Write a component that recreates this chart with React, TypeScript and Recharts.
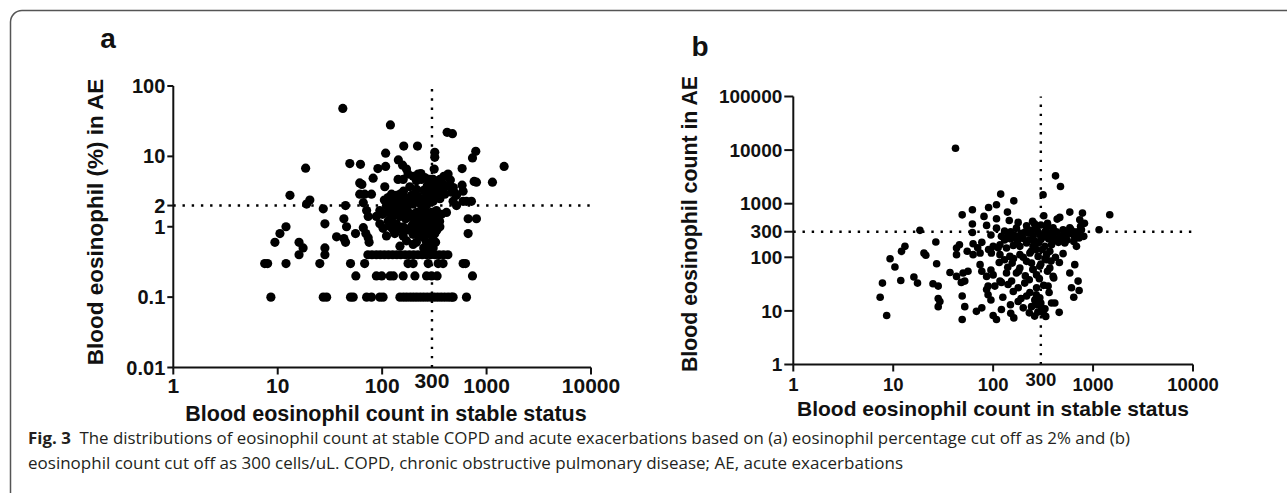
import React from "react";
import {
  ScatterChart,
  Scatter,
  XAxis,
  YAxis,
  ReferenceLine,
} from "recharts";

const FONT = '"Liberation Sans", Arial, Helvetica, sans-serif';
const CAPTION_FONT = '"Open Sans", "Noto Sans", sans-serif';
const INK = "#111";

const xTicks = [1, 10, 100, 300, 1000, 10000];
const aYTicks = [0.01, 0.1, 1, 2, 10, 100];
const bYTicks = [1, 10, 100, 300, 1000, 10000, 100000];

// panel a: stable count vs AE eosinophil %, scattered points
const aPoints: [number, number][] = [
  [42, 48], [120, 28], [419, 22], [471, 21], [161, 14], [218, 14], [108, 11.1], [319, 11.4],
  [319, 9.7], [788, 11.8], [733, 9.5], [143, 8.9], [49, 7.9], [62, 7.7], [18.5, 6.8], [91, 6.7],
  [108, 7.2], [157, 7.5], [171, 6.6], [177, 5.6], [221, 5.6], [235, 5.7], [315, 6.6], [583, 6.7],
  [1472, 7.2], [82, 4.9], [61, 4.2], [64, 4.0], [142, 4.7], [159, 4.7], [198, 5.2], [256, 5.0],
  [308, 4.7], [357, 4.7], [413, 5.3], [428, 5.6], [760, 4.4], [800, 4.3], [1138, 4.3], [213, 4.5],
  [238, 4.7], [286, 4.7], [106, 3.7], [184, 3.7], [213, 3.4], [286, 3.8], [319, 3.6], [357, 4.0],
  [407, 3.8], [444, 3.9], [583, 3.9], [160, 3.2], [250, 3.3], [270, 3.8], [300, 3.4], [335, 4.2],
  [370, 4.4], [390, 5.2], [450, 4.6], [480, 3.6], [500, 3.0],
  [13.1, 2.8], [61, 2.9], [68, 2.9], [79, 2.9], [114, 2.6], [123, 2.9], [137, 2.8], [148, 2.9],
  [165, 2.6], [191, 2.8], [205, 2.9], [229, 2.5], [286, 2.9], [319, 3.1], [357, 3.2], [398, 2.9],
  [461, 3.1], [515, 2.8], [596, 3.2], [20.3, 2.4], [18.9, 2.1], [44.6, 2.0], [66, 2.2], [110, 2.0],
  [128, 2.1], [148, 1.9], [159, 2.2], [177, 2.0], [198, 2.1], [238, 2.0], [266, 2.0], [308, 2.3],
  [357, 2.5], [478, 2.3], [596, 2.3], [642, 2.3], [716, 2.3], [515, 2.0], [105, 2.4], [118, 2.3],
  [132, 2.5], [142, 2.2], [152, 2.6], [163, 2.3], [172, 2.4], [186, 2.6], [194, 2.3], [208, 2.4],
  [220, 2.7], [232, 2.2], [245, 2.4], [258, 2.6], [270, 2.3], [280, 2.5], [296, 2.7], [330, 2.6],
  [345, 2.8], [380, 3.4], [390, 3.0],
  [27.3, 1.8], [71, 1.7], [95, 1.7], [119, 1.8], [137, 1.7], [171, 1.7], [213, 1.6], [247, 1.8],
  [276, 1.5], [331, 1.7], [370, 1.5], [413, 1.6], [73.5, 1.4], [88, 1.4], [101, 1.5], [123, 1.3],
  [148, 1.4], [184, 1.4], [229, 1.4], [308, 1.3], [112, 1.6], [128, 1.5], [140, 1.6], [158, 1.5],
  [168, 1.3], [178, 1.6], [192, 1.5], [205, 1.3], [218, 1.5], [240, 1.4], [255, 1.3], [262, 1.6],
  [290, 1.4], [300, 1.6], [318, 1.2], [340, 1.4], [355, 1.2],
  [12, 1.0], [28.3, 1.1], [43, 1.3], [45.6, 1.0], [95, 1.1], [114, 1.2], [137, 1.1], [159, 1.0],
  [198, 1.1], [229, 1.2], [286, 1.1], [331, 1.0], [666, 1.3], [800, 1.3], [66, 0.97], [102, 0.95],
  [128, 0.9], [148, 0.92], [184, 0.9], [247, 1.0], [297, 0.92], [357, 1.0], [120, 1.0], [132, 0.8],
  [170, 0.9], [190, 1.0], [210, 0.9], [222, 1.0], [240, 0.8], [258, 0.9], [275, 1.0], [320, 0.8],
  [335, 0.9], [55.6, 0.8], [69.8, 0.8], [10.5, 0.8], [110, 0.74], [159, 0.74], [198, 0.78],
  [229, 0.74], [286, 0.78], [666, 0.8], [36.6, 0.72], [43, 0.68], [73.5, 0.7], [171, 0.63],
  [213, 0.6], [266, 0.6], [308, 0.66], [250, 0.7], [295, 0.6], [325, 0.6], [9.4, 0.6], [16, 0.6],
  [44.6, 0.6], [75, 0.6], [148, 0.53], [198, 0.56], [276, 0.53], [308, 0.5], [17.5, 0.5],
  [28.3, 0.5], [286, 0.45], [250, 0.5],
];

// panel a: stable counts of the rows sitting on 0.4 / 0.3 / 0.2 / 0.1 %
const aRow04 = [16, 28.3, 73, 80, 88, 96, 105, 115, 126, 138, 151, 166, 182, 200, 220, 242, 266, 292, 320, 352, 387, 426];
const aRow03 = [7.5, 8.0, 12, 25.3, 49.8, 68, 177, 198, 276, 344, 383, 596, 628];
const aRow02 = [56, 88, 99, 119, 128, 159, 206, 266, 297, 336, 733];
const aRow01 = [8.6, 27.3, 29.4, 49.8, 52.8, 71, 79, 95, 102, 148, 160, 172, 186, 200, 215, 232, 250, 270, 292, 315, 340, 367, 396, 428, 460, 478, 642];

// panel b: stable count vs AE count
const bPoints: [number, number][] = [
  [42, 10840], [421, 3310], [472, 2100], [119, 1510], [316, 1465], [161, 1130], [108, 955], [90, 850],
  [62, 770], [49, 620], [81, 580], [108, 524], [139, 697], [585, 697], [783, 668], [1468, 621],
  [321, 595], [464, 555], [437, 516], [736, 501], [62, 417], [86, 394], [145, 487], [178, 448],
  [248, 467], [18.5, 318], [62, 291], [108, 350], [216, 388], [171, 350], [272, 337], [342, 367],
  [398, 355], [501, 327], [585, 355], [765, 327], [1148, 327], [121, 246], [141, 264], [165, 253],
  [192, 239], [224, 283], [251, 246], [293, 264], [342, 246], [398, 264], [464, 246], [542, 264],
  [807, 246], [26.7, 193], [46, 172], [43, 149], [63, 179], [77, 190], [100, 160], [117, 172],
  [136, 149], [159, 166], [185, 160], [216, 185], [251, 160], [282, 185], [329, 160], [384, 172],
  [521, 185], [641, 198], [725, 229], [682, 160], [13.1, 160], [12.1, 129], [9.3, 94], [20.3, 120],
  [21.2, 109], [43, 112], [63, 112], [74, 120], [96, 120], [117, 112], [147, 104], [185, 112],
  [233, 120], [282, 104], [342, 112], [501, 117], [369, 129], [27.2, 76], [10.4, 66], [37, 52],
  [43, 44], [50, 51], [56, 55], [48, 34], [52, 36], [74, 73], [77, 55], [86, 44],
  [100, 47], [117, 36], [136, 51], [153, 36], [171, 51], [185, 63], [216, 84], [242, 78],
  [251, 59], [293, 68], [342, 90], [369, 63], [398, 44], [272, 47], [656, 73], [585, 51],
  [708, 36], [608, 27], [725, 24], [641, 18], [7.8, 33], [7.4, 18], [8.6, 8.2], [11.9, 37],
  [16.1, 43], [17.5, 33], [25, 32], [28.2, 29], [28.2, 17], [29.3, 15], [28.2, 12], [49, 19],
  [52, 12], [49, 6.9], [68, 9.8], [77, 11.4], [100, 8.2], [108, 6.9], [121, 10.6], [149, 13],
  [161, 7.4], [178, 15], [200, 11.4], [216, 19], [242, 12], [261, 16], [272, 13], [293, 17.5],
  [305, 11.4], [316, 9.2], [336, 7.9], [363, 22], [384, 14], [414, 14], [458, 9.4], [89, 29],
  [89, 20], [86, 25], [104, 29], [121, 34], [141, 31], [159, 23], [178, 27], [207, 33],
  [233, 22], [272, 27], [355, 29], [404, 41],
  [130, 210], [150, 220], [175, 200], [200, 225], [230, 210], [260, 200], [300, 215], [320, 240],
  [360, 220], [420, 210], [450, 190], [500, 230], [550, 210], [600, 280], [640, 300], [130, 90],
  [160, 95], [200, 100], [240, 130], [270, 140], [310, 140], [330, 95], [380, 85], [420, 100],
  [460, 80], [300, 75], [250, 60], [210, 45], [180, 55], [140, 65], [115, 80], [95, 58],
  [155, 78], [230, 38], [290, 40], [320, 30], [350, 55], [270, 20], [190, 17], [125, 18],
  [300, 14], [330, 11], [280, 9.5], [260, 8], [150, 9], [230, 9.2], [95, 16], [210, 300],
  [240, 320], [190, 280], [150, 300], [130, 310], [280, 300], [330, 300], [380, 290], [430, 300],
  [520, 290], [560, 300], [600, 330], [700, 300], [750, 380], [820, 430], [710, 260], [650, 250],
  [260, 420], [300, 400], [350, 430], [95, 260], [112, 150], [90, 140], [70, 150], [55, 130],
];

const dataA = [
  ...aPoints.map(([x, y]) => ({ x, y })),
  ...aRow04.map((x) => ({ x, y: 0.4 })),
  ...aRow03.map((x) => ({ x, y: 0.3 })),
  ...aRow02.map((x) => ({ x, y: 0.2 })),
  ...aRow01.map((x) => ({ x, y: 0.1 })),
];
const dataB = bPoints.map(([x, y]) => ({ x, y }));

const dot = (r: number) => (p: any) => <circle cx={p.cx} cy={p.cy} r={r} fill="#000" />;

function makeXTick(fontSize: number, base: number, lift: number) {
  return (p: any) => {
    const is300 = p.payload.value === 300;
    return (
      <g>
        {!is300 && <line x1={p.x} x2={p.x} y1={p.y - 7} y2={p.y} stroke={INK} strokeWidth={2} />}
        <text
          x={p.x}
          y={p.y}
          dy={is300 ? base - lift : base}
          textAnchor="middle"
          fontFamily={FONT}
          fontWeight="bold"
          fontSize={fontSize}
          fill={INK}
        >
          {p.payload.value}
        </text>
      </g>
    );
  };
}

const dotted = { stroke: "#000", strokeWidth: 2.4, strokeDasharray: "2.4 6.8" };

function PanelA() {
  return (
    <ScatterChart width={640} height={497} margin={{ top: 86, right: 49, bottom: 89.5, left: 103.3 }}>
      <XAxis
        type="number"
        dataKey="x"
        scale="log"
        domain={[1, 10000]}
        ticks={xTicks}
        interval={0}
        allowDataOverflow
        height={40}
        tickSize={7}
        tickMargin={0}
        tickLine={false}
        axisLine={{ stroke: INK, strokeWidth: 2 }}
        tick={makeXTick(21, 18, 5)}
      />
      <YAxis
        type="number"
        dataKey="y"
        scale="log"
        domain={[0.01, 100]}
        ticks={aYTicks}
        interval={0}
        allowDataOverflow
        width={70}
        tickSize={6}
        tickMargin={2}
        axisLine={{ stroke: INK, strokeWidth: 2 }}
        tickLine={{ stroke: INK, strokeWidth: 2 }}
        tick={{ fill: INK, fontSize: 20, fontWeight: "bold", fontFamily: FONT }}
      />
      <ReferenceLine x={300} {...dotted} />
      <ReferenceLine y={2} {...dotted} />
      <Scatter data={dataA} shape={dot(4.6)} isAnimationActive={false} />
    </ScatterChart>
  );
}

function PanelB() {
  return (
    <ScatterChart width={647} height={497} margin={{ top: 96.5, right: 94, bottom: 92.5, left: 73.3 }}>
      <XAxis
        type="number"
        dataKey="x"
        scale="log"
        domain={[1, 10000]}
        ticks={xTicks}
        interval={0}
        allowDataOverflow
        height={40}
        tickSize={7}
        tickMargin={0}
        tickLine={false}
        axisLine={{ stroke: INK, strokeWidth: 2 }}
        tick={makeXTick(18.5, 19.5, 5)}
      />
      <YAxis
        type="number"
        dataKey="y"
        scale="log"
        domain={[1, 100000]}
        ticks={bYTicks}
        interval={0}
        allowDataOverflow
        width={80}
        tickSize={9}
        tickMargin={2}
        axisLine={{ stroke: INK, strokeWidth: 2 }}
        tickLine={{ stroke: INK, strokeWidth: 2 }}
        tick={{ fill: INK, fontSize: 19, fontWeight: "bold", fontFamily: FONT }}
      />
      <ReferenceLine x={300} {...dotted} />
      <ReferenceLine y={300} {...dotted} />
      <Scatter data={dataB} shape={dot(3.8)} isAnimationActive={false} />
    </ScatterChart>
  );
}

export default function App() {
  const title = { fontFamily: FONT, fontWeight: "bold" as const, fill: INK };
  return (
    <div style={{ position: "absolute", left: 0, top: 0, width: 1287, height: 497, background: "#fff", overflow: "hidden" }}>
      <div style={{ position: "absolute", left: 0, top: 0 }}>
        <PanelA />
      </div>
      <div style={{ position: "absolute", left: 640, top: 0 }}>
        <PanelB />
      </div>
      <svg width={1287} height={497} style={{ position: "absolute", left: 0, top: 0, pointerEvents: "none" }}>
        <path d="M 10.5 493 L 10.5 22 A 11.5 11.5 0 0 1 22 10.5 L 1287 10.5" fill="none" stroke="#555" strokeWidth={1.5} />
        <text x={108} y={48} textAnchor="middle" fontSize={28} {...title}>a</text>
        <text x={700} y={56} textAnchor="middle" fontSize={28} {...title}>b</text>
        <text x={386} y={421} textAnchor="middle" fontSize={21.5} {...title}>Blood eosinophil count in stable status</text>
        <text x={993} y={416} textAnchor="middle" fontSize={21} {...title}>Blood eosinophil count in stable status</text>
        <text x={103} y={222} textAnchor="middle" fontSize={22.5} transform="rotate(-90 103 222)" {...title}>Blood eosinophil (%) in AE</text>
        <text x={697} y={224} textAnchor="middle" fontSize={21.3} transform="rotate(-90 697 224)" {...title}>Blood eosinophil count in AE</text>
        <text x={28} y={444} fontFamily={CAPTION_FONT} fontSize={15.5} fill="#231f20" textLength={1102} lengthAdjust="spacingAndGlyphs">
          <tspan fontWeight="bold">Fig. 3</tspan>
          <tspan dx={8}>The distributions of eosinophil count at stable COPD and acute exacerbations based on (a) eosinophil percentage cut off as 2% and (b)</tspan>
        </text>
        <text x={28} y={469} fontFamily={CAPTION_FONT} fontSize={15.5} fill="#231f20" textLength={875} lengthAdjust="spacingAndGlyphs">
          eosinophil count cut off as 300 cells/uL. COPD, chronic obstructive pulmonary disease; AE, acute exacerbations
        </text>
      </svg>
    </div>
  );
}
